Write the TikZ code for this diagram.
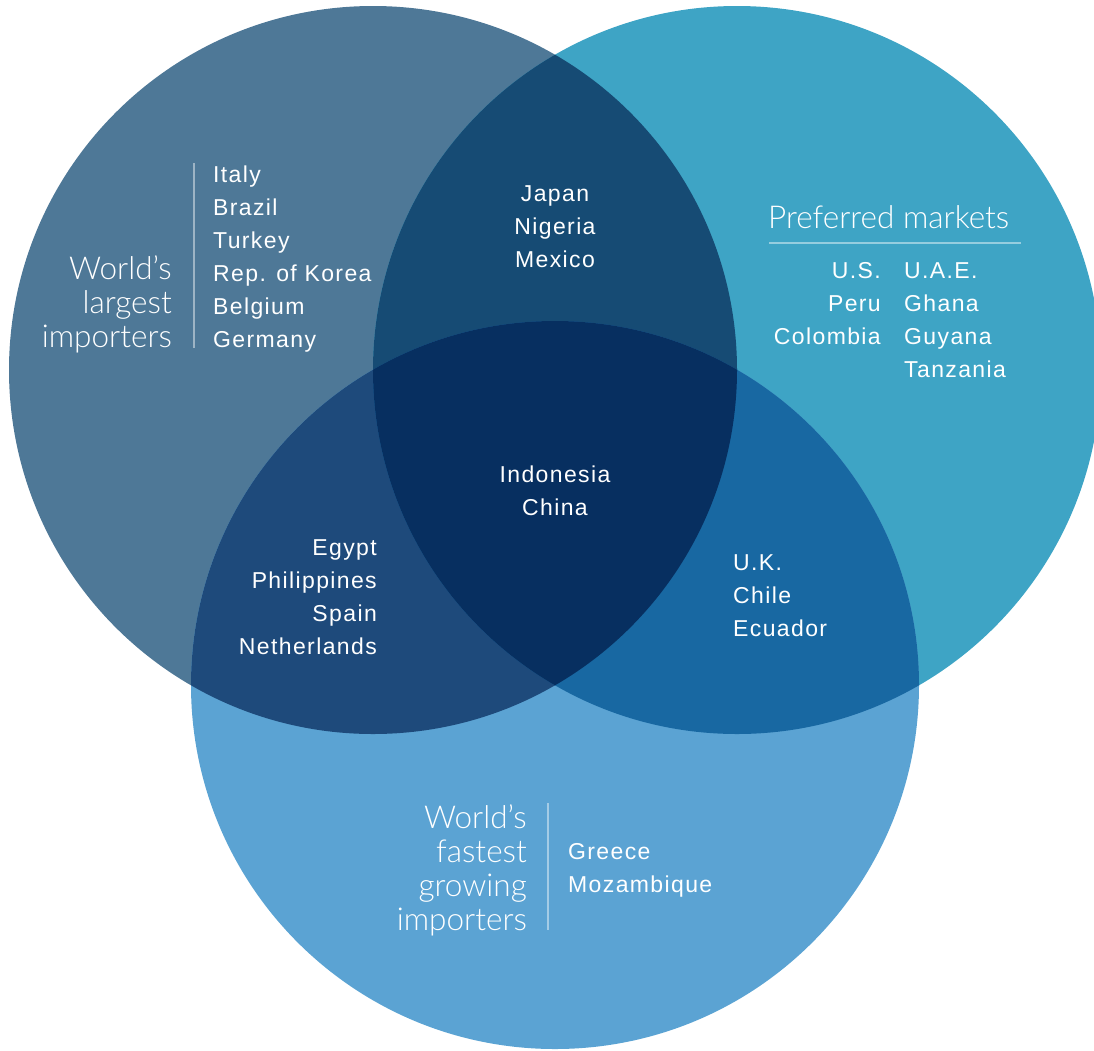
\documentclass[tikz,border=0pt]{standalone}
\usepackage{fontspec}
\setmainfont{Liberation Sans}
\newfontfamily\countryfont[LetterSpace=6]{Liberation Sans}
\newfontfamily\lightfont{Lato Light}
\definecolor{cL}{HTML}{4E7897}
\definecolor{cR}{HTML}{3EA4C5}
\definecolor{cB}{HTML}{5BA3D3}
\definecolor{cLR}{HTML}{164B74}
\definecolor{cLB}{HTML}{1E4A7B}
\definecolor{cRB}{HTML}{1868A2}
\definecolor{cLRB}{HTML}{072F60}
\tikzset{
  country/.style={text=white, inner sep=0pt, font=\countryfont\fontsize{23}{33}\selectfont},
  grouplabel/.style={text=white, inner sep=0pt, font=\lightfont\fontsize{31.5}{34}\selectfont},
  sepline/.style={draw=white, draw opacity=0.45, line width=1.2pt}
}
\begin{document}
\begin{tikzpicture}[x=1pt,y=-1pt]
\useasboundingbox (0,0) rectangle (1094,1050);
\clip (0,0) rectangle (1094,1050);
\def\rad{364pt}
\coordinate (L) at (373,370);
\coordinate (R) at (737,370);
\coordinate (B) at (555,685);
% single regions
\fill[cL] (L) circle[radius=\rad];
\fill[cR] (R) circle[radius=\rad];
\fill[cB] (B) circle[radius=\rad];
% pairwise overlaps
\begin{scope}
  \clip (L) circle[radius=\rad];
  \fill[cLR] (R) circle[radius=\rad];
  \fill[cLB] (B) circle[radius=\rad];
\end{scope}
\begin{scope}
  \clip (R) circle[radius=\rad];
  \fill[cRB] (B) circle[radius=\rad];
  \clip (L) circle[radius=\rad];
  \fill[cLRB] (B) circle[radius=\rad];
\end{scope}
% left circle
\node[grouplabel, anchor=east, align=right] (largestlabel) at (172,304) {World’s\\largest\\importers};
\node[country, anchor=west, align=left] (largestlist) at (213,259) {Italy\\Brazil\\Turkey\\Rep. of Korea\\Belgium\\Germany};
\coordinate (sepLtop) at (194,163);
\coordinate (sepLbot) at (194,348);
\draw[sepline] (sepLtop) -- (sepLbot);
% left-right
\node[country, align=center] (lrlist) at (555,227) {Japan\\Nigeria\\Mexico};
% right circle
\node[grouplabel, anchor=west] (preflabel) at (768,217) {Preferred markets};
\coordinate (sepRl) at (769,243);
\coordinate (sepRr) at (1021,243);
\draw[sepline] (sepRl) -- (sepRr);
\node[country, anchor=east, align=right] (prefleft) at (881,304) {U.S.\\Peru\\Colombia};
\node[country, anchor=west, align=left] (prefright) at (904,320) {U.A.E.\\Ghana\\Guyana\\Tanzania};
% centre
\node[country, align=center] (lrblist) at (555,491) {Indonesia\\China};
% left-bottom
\node[country, anchor=east, align=right] (lblist) at (377,597) {Egypt\\Philippines\\Spain\\Netherlands};
% right-bottom
\node[country, anchor=west, align=left] (rblist) at (733,596) {U.K.\\Chile\\Ecuador};
% bottom circle
\node[grouplabel, anchor=east, align=right] (fastlabel) at (527,870) {World’s\\fastest\\growing\\importers};
\node[country, anchor=west, align=left] (fastlist) at (568,870) {Greece\\Mozambique};
\coordinate (sepBtop) at (548,803);
\coordinate (sepBbot) at (548,930);
\draw[sepline] (sepBtop) -- (sepBbot);
\end{tikzpicture}
\end{document}
